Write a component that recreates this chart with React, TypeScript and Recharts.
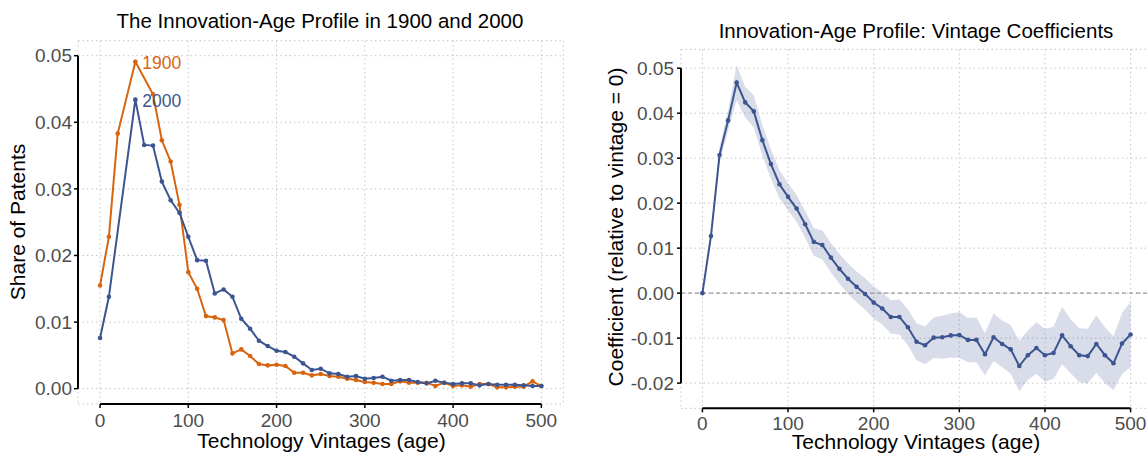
import {
  CartesianGrid,
  ComposedChart,
  Line,
  Area,
  ReferenceDot,
  ReferenceLine,
  XAxis,
  YAxis,
} from "recharts";

const ages = [
  0, 10, 20, 30, 40, 50, 60, 70, 80, 90, 100, 110, 120, 130, 140, 150, 160, 170, 180, 190, 200,
  210, 220, 230, 240, 250, 260, 270, 280, 290, 300, 310, 320, 330, 340, 350, 360, 370, 380, 390,
  400, 410, 420, 430, 440, 450, 460, 470, 480, 490, 500,
];

// share of patents by technology vintage
const share1900 = [
  0.0155, 0.0228, 0.0383, null, 0.0491, null, 0.0442, 0.0373, 0.0341, 0.0276, 0.0175, 0.015,
  0.0109, 0.0107, 0.0103, 0.0053, 0.0059, 0.0049, 0.0037, 0.0035, 0.0036, 0.0034, 0.0024, 0.0024,
  0.002, 0.0022, 0.0019, 0.0018, 0.0015, 0.0013, 0.001, 0.0009, 0.0007, 0.0007, 0.0011, 0.0009,
  0.0009, 0.0009, 0.0004, 0.0009, 0.0004, 0.0005, 0.0003, 0.0007, 0.0007, 0.0002, 0.0002, 0.0003,
  0.0003, 0.0011, 0.0004,
];
const share2000 = [
  0.0076, 0.0138, null, null, 0.0434, 0.0366, 0.0365, 0.0311, 0.0283, 0.0264, 0.0228, 0.0193,
  0.0192, 0.0143, 0.0149, 0.0138, 0.0105, 0.009, 0.0072, 0.0064, 0.0057, 0.0055, 0.0048, 0.0038,
  0.0028, 0.003, 0.0023, 0.0022, 0.0018, 0.0019, 0.0015, 0.0016, 0.0018, 0.0012, 0.0013, 0.0013,
  0.001, 0.0008, 0.0012, 0.0009, 0.0007, 0.0008, 0.0008, 0.0005, 0.0007, 0.0006, 0.0006, 0.0006,
  0.0005, 0.0004, 0.0004,
];

// vintage coefficients and half-width of the confidence band
const coefs = [
  0, 0.0127, 0.0307, 0.0384, 0.0468, 0.0424, 0.0404, 0.034, 0.0287, 0.0242, 0.0214, 0.0188, 0.0153,
  0.0114, 0.0107, 0.0079, 0.0054, 0.0032, 0.0014, -0.0002, -0.0021, -0.0034, -0.0053, -0.0053,
  -0.0076, -0.0108, -0.0116, -0.0099, -0.0098, -0.0094, -0.0093, -0.0104, -0.0104, -0.0136,
  -0.0098, -0.0113, -0.0125, -0.0162, -0.0138, -0.0122, -0.0138, -0.0133, -0.0094, -0.0118,
  -0.0138, -0.014, -0.0113, -0.0138, -0.0156, -0.0112, -0.0092,
];
const ciHalf = [
  0, 0.001, 0.0018, 0.0022, 0.0039, 0.0034, 0.0036, 0.0034, 0.0033, 0.0031, 0.003, 0.003, 0.003,
  0.0031, 0.0032, 0.0033, 0.0033, 0.0034, 0.0034, 0.0035, 0.0036, 0.0036, 0.0037, 0.0039, 0.004,
  0.0041, 0.0042, 0.0045, 0.0048, 0.0049, 0.0051, 0.0049, 0.005, 0.0047, 0.0053, 0.0052, 0.0054,
  0.0056, 0.0055, 0.0057, 0.0059, 0.0058, 0.0064, 0.006, 0.006, 0.0061, 0.0064, 0.0062, 0.006,
  0.0068, 0.0073,
];

const xTicks = [0, 100, 200, 300, 400, 500];
const shareTicks = [0, 0.01, 0.02, 0.03, 0.04, 0.05];
const coefTicks = [-0.02, -0.01, 0, 0.01, 0.02, 0.03, 0.04, 0.05];

const orange = "#D8640F";
const blue = "#3C5590";
const gridColor = "#c4c4c4";
const tickStyle = { fill: "#4d4d4d", fontSize: 19 };

const shareData = ages.map((age, i) => ({ age, s1900: share1900[i], s2000: share2000[i] }));
const coefData = ages.map((age, i) => ({
  age,
  coef: coefs[i],
  band: [coefs[i] - ciHalf[i], coefs[i] + ciHalf[i]],
}));

const peak1900 = Math.max(...(share1900.filter((v) => v !== null) as number[]));
const peak2000 = Math.max(...(share2000.filter((v) => v !== null) as number[]));
const peakAge1900 = ages[share1900.indexOf(peak1900)];
const peakAge2000 = ages[share2000.indexOf(peak2000)];

const ageDomain = [-25, 525];
const shareDomain = [-0.0023, 0.05225];
const coefDomain = [-0.0256, 0.0542];

// axis lines only run over the tick range, so they are drawn as segments
function axisSegments(yLow: number, yHigh: number, yBottom: number) {
  return [
    <ReferenceLine
      key="y-axis"
      segment={[
        { x: ageDomain[0], y: yLow },
        { x: ageDomain[0], y: yHigh },
      ]}
      stroke="#000"
      strokeWidth={2}
      ifOverflow="visible"
    />,
    <ReferenceLine
      key="x-axis"
      segment={[
        { x: xTicks[0], y: yBottom },
        { x: xTicks[xTicks.length - 1], y: yBottom },
      ]}
      stroke="#000"
      strokeWidth={2}
      ifOverflow="visible"
    />,
  ];
}

function SharesChart() {
  return (
    <ComposedChart
      width={580}
      height={456}
      data={shareData}
      margin={{ top: 40.7, right: 16.6, bottom: 22, left: 8 }}
    >
      <CartesianGrid stroke={gridColor} strokeDasharray="1.5 3" />
      <XAxis
        dataKey="age"
        type="number"
        domain={ageDomain}
        ticks={xTicks}
        allowDataOverflow
        height={30}
        axisLine={false}
        tickLine={{ stroke: "#000", strokeWidth: 1.5 }}
        tickSize={4}
        tickMargin={5.5}
        tick={tickStyle}
      />
      <YAxis
        type="number"
        domain={shareDomain}
        ticks={shareTicks}
        allowDataOverflow
        width={70}
        axisLine={false}
        tickLine={{ stroke: "#000", strokeWidth: 1.5 }}
        tickSize={4}
        tickMargin={2}
        tick={tickStyle}
        tickFormatter={(v: number) => v.toFixed(2)}
      />
      {axisSegments(shareTicks[0], shareTicks[shareTicks.length - 1], shareDomain[0])}
      <Line
        dataKey="s1900"
        stroke={orange}
        strokeWidth={2}
        dot={{ r: 2.3, fill: orange, stroke: orange, strokeWidth: 0 }}
        activeDot={false}
        connectNulls
        isAnimationActive={false}
      />
      <Line
        dataKey="s2000"
        stroke={blue}
        strokeWidth={2}
        dot={{ r: 2.3, fill: blue, stroke: blue, strokeWidth: 0 }}
        activeDot={false}
        connectNulls
        isAnimationActive={false}
      />
      <ReferenceDot
        x={peakAge1900}
        y={peak1900}
        r={2}
        fill={orange}
        stroke="none"
        label={{ value: "1900", position: "right", fill: orange, fontSize: 17.5, dy: 1.5 }}
      />
      <ReferenceDot
        x={peakAge2000}
        y={peak2000}
        r={2}
        fill={blue}
        stroke="none"
        label={{ value: "2000", position: "right", fill: blue, fontSize: 17.5, dy: 1.5 }}
      />
    </ComposedChart>
  );
}

function CoefChart() {
  return (
    <ComposedChart
      width={566}
      height={456}
      data={coefData}
      margin={{ top: 49.3, right: 4, bottom: 17.7, left: 21 }}
    >
      <CartesianGrid stroke={gridColor} strokeDasharray="1.5 3" />
      <XAxis
        dataKey="age"
        type="number"
        domain={ageDomain}
        ticks={xTicks}
        allowDataOverflow
        height={30}
        axisLine={false}
        tickLine={{ stroke: "#000", strokeWidth: 1.5 }}
        tickSize={4}
        tickMargin={4.3}
        tick={tickStyle}
      />
      <YAxis
        type="number"
        domain={coefDomain}
        ticks={coefTicks}
        allowDataOverflow
        width={70}
        axisLine={false}
        tickLine={{ stroke: "#000", strokeWidth: 1.5 }}
        tickSize={4}
        tickMargin={3}
        tick={tickStyle}
        tickFormatter={(v: number) => v.toFixed(2)}
      />
      <Area
        dataKey="band"
        stroke="none"
        fill={blue}
        fillOpacity={0.2}
        activeDot={false}
        isAnimationActive={false}
      />
      <ReferenceLine y={0} stroke="#9a9a9a" strokeDasharray="4 3" strokeWidth={1.2} />
      {axisSegments(coefTicks[0], coefTicks[coefTicks.length - 1], coefDomain[0])}
      <Line
        dataKey="coef"
        stroke={blue}
        strokeWidth={2}
        dot={{ r: 2.3, fill: blue, stroke: blue, strokeWidth: 0 }}
        activeDot={false}
        isAnimationActive={false}
      />
    </ComposedChart>
  );
}

export default function App() {
  return (
    <div
      style={{
        position: "absolute",
        left: 0,
        top: 0,
        width: 1148,
        height: 456,
        overflow: "hidden",
        background: "#fff",
        fontFamily: '"Liberation Sans", Arial, sans-serif',
      }}
    >
      <div style={{ position: "absolute", left: 0, top: 0 }}>
        <SharesChart />
      </div>
      <div style={{ position: "absolute", left: 590, top: 0 }}>
        <CoefChart />
      </div>
      <svg
        width={1148}
        height={456}
        style={{ position: "absolute", left: 0, top: 0, pointerEvents: "none" }}
      >
        <g fill="#000" textAnchor="middle">
          <text x={320} y={28.3} fontSize={20.5}>
            The Innovation-Age Profile in 1900 and 2000
          </text>
          <text x={916} y={38.3} fontSize={20.5}>
            Innovation-Age Profile: Vintage Coefficients
          </text>
          <text x={321.5} y={448} fontSize={21}>
            Technology Vintages (age)
          </text>
          <text x={916} y={449} fontSize={21}>
            Technology Vintages (age)
          </text>
          <text transform="translate(25,222) rotate(-90)" fontSize={21}>
            Share of Patents
          </text>
          <text transform="translate(623,227) rotate(-90)" fontSize={21}>
            Coefficient (relative to vintage = 0)
          </text>
        </g>
      </svg>
    </div>
  );
}
